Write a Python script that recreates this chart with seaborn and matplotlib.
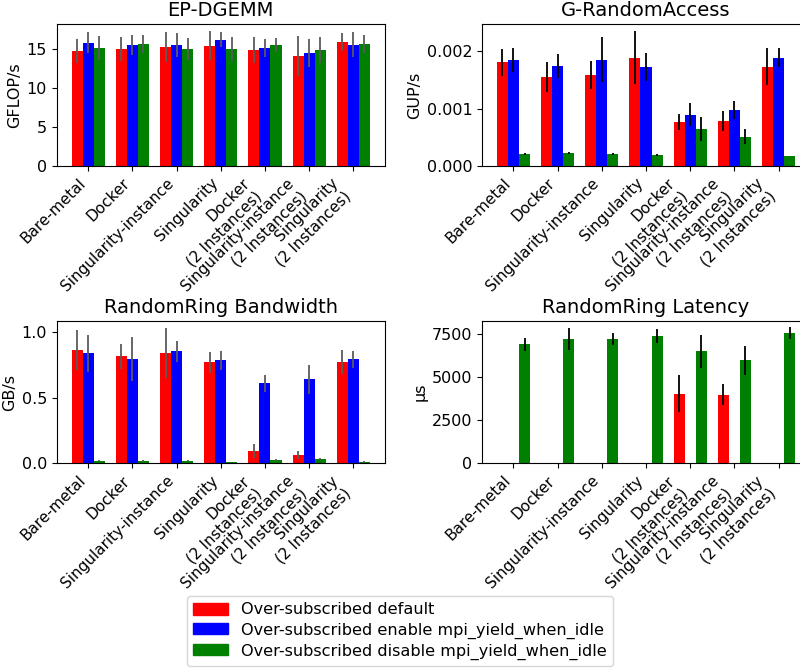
import numpy as np
import pandas as pd
import matplotlib
matplotlib.use('Agg')
import matplotlib.pyplot as plt
import matplotlib.patches as mpatches
import seaborn as sns

# 测试环境与配置
categories = ['Bare-metal', 'Docker', 'Singularity-instance', 'Singularity',
              'Docker\n(2 Instances)', 'Singularity-instance\n(2 Instances)',
              'Singularity\n(2 Instances)']
configs = ['Over-subscribed default',
           'Over-subscribed enable mpi_yield_when_idle',
           'Over-subscribed disable mpi_yield_when_idle']
colors = ['red', 'blue', 'green']

# EP-DGEMM (GFLOP/s)
dgemm_default = [14.74, 15.0, 15.26, 15.38, 14.87, 14.1, 15.9]
dgemm_enable = [15.77, 15.51, 15.51, 16.15, 15.13, 14.49, 15.51]
dgemm_disable = [15.13, 15.64, 15.0, 15.0, 15.51, 14.87, 15.64]
dgemm_default_err = [1.52, 1.52, 1.88, 1.86, 1.65, 2.56, 1.15]
dgemm_enable_err = [1.35, 1.3, 1.56, 0.96, 1.18, 1.77, 1.6]
dgemm_disable_err = [1.54, 1.2, 1.45, 1.5, 0.88, 1.62, 1.2]

# G-RandomAccess (GUP/s)
ra_default = [0.00181, 0.001557, 0.001592, 0.001889, 0.00077, 0.000787, 0.001732]
ra_enable = [0.001854, 0.001749, 0.001854, 0.001732, 0.000892, 0.00098, 0.001889]
ra_disable = [0.00021, 0.000227, 0.00021, 0.000192, 0.000647, 0.000513, 0.000175]
ra_default_err = [0.00024, 0.00026, 0.00024, 0.00046, 0.00014, 0.000175, 0.00032]
ra_enable_err = [0.000215, 0.00021, 0.00039, 0.00024, 0.0002, 0.000155, 0.000165]
ra_disable_err = [0.00001, 0.00002, 0.00001, 0.00002, 0.00021, 0.000125, 0.000005]

# RandomRing Bandwidth (GB/s)
bw_default = [0.86, 0.814, 0.837, 0.768, 0.094, 0.064, 0.768]
bw_enable = [0.837, 0.791, 0.852, 0.783, 0.607, 0.638, 0.791]
bw_disable = [0.018, 0.018, 0.018, 0.01, 0.026, 0.033, 0.01]
bw_default_err = [0.153, 0.094, 0.19, 0.079, 0.054, 0.032, 0.093]
bw_enable_err = [0.142, 0.166, 0.08, 0.07, 0.066, 0.11, 0.064]
bw_disable_err = [0.003, 0.01, 0.003, 0.002, 0.008, 0.01, 0.005]

# RandomRing Latency (μs)
lat_default = [15, 15, 15, 15, 4031, 3973, 15]
lat_enable = [0, 0, 0, 0, 0, 0, 0]
lat_disable = [6880, 7170, 7170, 7345, 6473, 5950, 7540]
lat_default_err = [0, 0, 0, 0, 1085, 610, 0]
lat_enable_err = [0, 0, 0, 0, 0, 0, 0]
lat_disable_err = [360, 640, 350, 400, 960, 840, 320]

panels = [
    ('EP-DGEMM', 'GFLOP/s', [dgemm_default, dgemm_enable, dgemm_disable],
     [dgemm_default_err, dgemm_enable_err, dgemm_disable_err], 18.2, '#5a5a5a'),
    ('G-RandomAccess', 'GUP/s', [ra_default, ra_enable, ra_disable],
     [ra_default_err, ra_enable_err, ra_disable_err], 0.00248, 'black'),
    ('RandomRing Bandwidth', 'GB/s', [bw_default, bw_enable, bw_disable],
     [bw_default_err, bw_enable_err, bw_disable_err], 1.08, '#5a5a5a'),
    ('RandomRing Latency', 'μs', [lat_default, lat_enable, lat_disable],
     [lat_default_err, lat_enable_err, lat_disable_err], 8220, 'black'),
]

plt.rcParams['font.family'] = ['DejaVu Sans']

fig = plt.figure(figsize=(8, 6.68), dpi=100)
# 轴位置 (左, 下, 宽, 高)
positions = [(0.071, 0.7515, 0.41, 0.2126), (0.6025, 0.7515, 0.41, 0.2126),
             (0.071, 0.3065, 0.41, 0.2126), (0.6025, 0.3065, 0.41, 0.2126)]

for (title, ylabel, vals, errs, ymax, ecol), pos in zip(panels, positions):
    ax = fig.add_axes(pos)
    df = pd.DataFrame({
        'category': np.tile(categories, 3),
        'config': np.repeat(configs, len(categories)),
        'value': np.concatenate(vals),
    })
    sns.barplot(data=df, x='category', y='value', hue='config',
                order=categories, hue_order=configs, palette=colors,
                saturation=1, width=0.75, errorbar=None, legend=False, ax=ax)
    for cont, err in zip(ax.containers, errs):
        xs = [b.get_x() + b.get_width() / 2 for b in cont]
        hs = [b.get_height() for b in cont]
        ax.errorbar(xs, hs, yerr=err, fmt='none', ecolor=ecol, elinewidth=1.3,
                    capsize=0)
    ax.set_ylim(0, ymax)
    ax.set_xlim(-0.7125, len(categories) - 0.2875)
    ax.set_title(title, fontsize=14)
    ax.set_xlabel('')
    ax.set_ylabel(ylabel, fontsize=11.5, labelpad=3)
    ax.tick_params(axis='x', labelsize=11)
    ax.tick_params(axis='y', labelsize=11.5)
    plt.setp(ax.get_xticklabels(), rotation=45, ha='right')

handles = [mpatches.Patch(color=c, label=l) for c, l in zip(colors, configs)]
fig.legend(handles=handles, loc='upper center', bbox_to_anchor=(0.5, 1 - 588 / 668),
           fontsize=11.6, frameon=True, handlelength=2.2, borderpad=0.4,
           labelspacing=0.3)

plt.savefig('out.png', dpi=100)
plt.close()
